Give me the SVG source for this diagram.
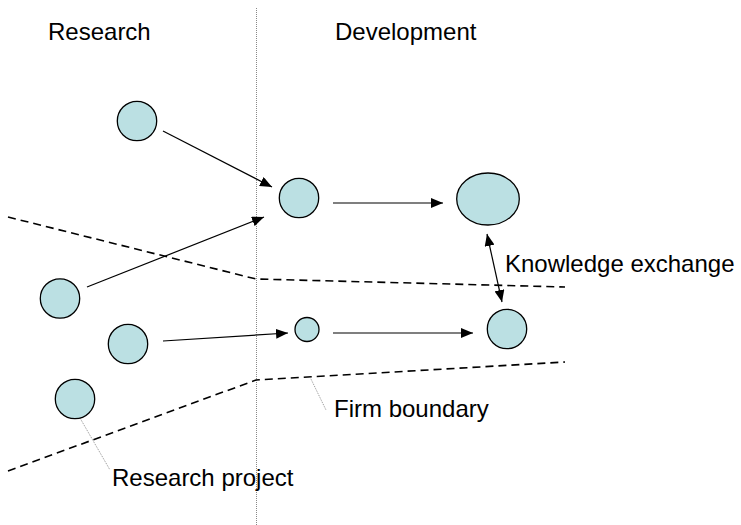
<svg xmlns="http://www.w3.org/2000/svg" width="741" height="525" viewBox="0 0 741 525">
<style>
.node{fill:#bbe0e3;stroke:#000;stroke-width:1.3}
.lbl{font-family:"Liberation Sans",Arial,sans-serif;font-size:24px;fill:#000}
.arr{stroke:#000;stroke-width:1.2;fill:none}
.bnd{stroke:#000;stroke-width:1.6;fill:none;stroke-dasharray:8 5}
.sep{stroke:#888;stroke-width:1;stroke-dasharray:1 1;fill:none}
.lead{stroke:#777;stroke-width:0.8;stroke-dasharray:1 1;fill:none}
</style>
<defs>
<marker id="ah" markerUnits="userSpaceOnUse" markerWidth="12" markerHeight="10" viewBox="0 0 12 10" refX="12" refY="5" orient="auto-start-reverse">
<path d="M0,0 L12,5 L0,10 Z" fill="#000"/>
</marker>
</defs>
<g id="separator"><line class="sep" x1="256.5" y1="8" x2="256.5" y2="525"/></g>
<g id="boundaries">
<polyline class="bnd" points="8,217 256,279 565,287"/>
<polyline class="bnd" points="8,471 256,380 565,362"/>
</g>
<g id="connectors">
<line class="arr" x1="163" y1="131" x2="272" y2="187" marker-end="url(#ah)"/>
<line class="arr" x1="87" y1="287" x2="264" y2="217" marker-end="url(#ah)"/>
<line class="arr" x1="333" y1="203" x2="443" y2="203" marker-end="url(#ah)"/>
<line class="arr" x1="163" y1="341" x2="288" y2="333" marker-end="url(#ah)"/>
<line class="arr" x1="333" y1="333" x2="473" y2="333" marker-end="url(#ah)"/>
<line class="arr" x1="487" y1="234" x2="502" y2="302" marker-start="url(#ah)" marker-end="url(#ah)"/>
<line class="lead" x1="80" y1="418" x2="110" y2="470"/>
<line class="lead" x1="310" y1="377" x2="326" y2="410"/>
</g>
<g id="n1"><circle class="node" cx="137" cy="121" r="19.7"/></g>
<g id="n2"><circle class="node" cx="299" cy="198" r="19.7"/></g>
<g id="n3"><ellipse class="node" cx="488" cy="199" rx="31.3" ry="26"/></g>
<g id="n4"><circle class="node" cx="60" cy="298.5" r="19.7"/></g>
<g id="n5"><circle class="node" cx="128" cy="344" r="19.7"/></g>
<g id="n6"><circle class="node" cx="307" cy="329.5" r="12"/></g>
<g id="n7"><circle class="node" cx="507" cy="329" r="19.7"/></g>
<g id="n8"><circle class="node" cx="75" cy="399" r="19.7"/></g>
<g id="labels">
<text class="lbl" x="48" y="40">Research</text>
<text class="lbl" x="335" y="40">Development</text>
<text class="lbl" x="505" y="272">Knowledge exchange</text>
<text class="lbl" x="334" y="417">Firm boundary</text>
<text class="lbl" x="112" y="486">Research project</text>
</g>
</svg>
